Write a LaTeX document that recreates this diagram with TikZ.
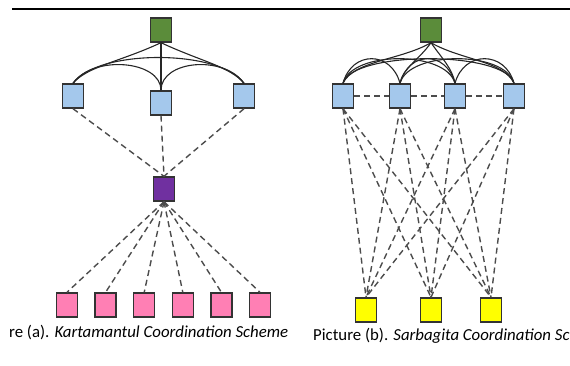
\documentclass[tikz,border=0pt]{standalone}
\usepackage{fontspec}
\setmainfont{Carlito}
\usepackage{xcolor}
\definecolor{Leaf Green}{HTML}{5B8C3A}
\definecolor{Sky Blue}{HTML}{A4C8EC}
\definecolor{Grape}{HTML}{7030A0}
\definecolor{Flamingo}{HTML}{FF7FB4}
\definecolor{Lemon}{HTML}{FFFF00}
\colorlet{cGreen}{Leaf Green}
\colorlet{cBlue}{Sky Blue}
\colorlet{cPurple}{Grape}
\colorlet{cPink}{Flamingo}
\colorlet{cYellow}{Lemon}
\usepackage{tikz}
\usetikzlibrary{positioning}
\tikzset{
	x=1pt,
	y=-1pt,
	node distance = 16.2pt,
	line width = 1.1pt,
	font = \fontsize{16.8}{20}\selectfont,
	unit/.style={
		draw=black!80,
		rectangle,
		line width=1.4pt,
		minimum width=21pt,
		minimum height=24pt,
		inner sep=0pt,
		fill=#1
	},
	link/.style={
		draw=black!85,
		line width=1.1pt
	},
	radio/.style={
		draw=black!70,
		line width=1.4pt,
		dash pattern=on 6pt off 4pt
	}
}

\begin{document}
\begin{tikzpicture}
		\useasboundingbox (0,0) rectangle (570,365);
		\draw[line width=2pt] (12,9) -- (570,9);

		% (a) Kartamantul -- y runs downwards, so angles are negated
		\node[unit=cGreen] at (161,30) (g1) {};
		\node[unit=cBlue] at (73,96) (b1) {};
		\node[unit=cBlue] at (161,103) (b2) {};
		\node[unit=cBlue] at (244,96) (b3) {};
		\node[unit=cPurple] at (164,189) (p) {};
		\node[unit=cPink] at (67,305) (k1) {};
		\node[unit=cPink, right=of k1] (k2) {};
		\node[unit=cPink, right=of k2] (k3) {};
		\node[unit=cPink, right=of k3] (k4) {};
		\node[unit=cPink, right=of k4] (k5) {};
		\node[unit=cPink, right=of k5] (k6) {};

		\draw[link] (g1.south) .. controls +(-205:45) and +(-50:22) .. (b1.north);
		\draw[link] (g1.south) -- (b2.north);
		\draw[link] (g1.south) .. controls +(25:45) and +(-130:22) .. (b3.north);
		\draw[link] (b1.north) .. controls +(-55:35) and +(-90:30) .. (b2.north);
		\draw[link] (b3.north) .. controls +(-125:35) and +(-90:30) .. (b2.north);
		\draw[link] (b1.north) .. controls +(-55:42) and +(-125:42) .. (b3.north);

		\foreach \i in {1,2,3}
			\draw[radio] (b\i.south) -- (p.north);
		\foreach \i in {1,...,6}
			\draw[radio] (p.south) -- (k\i.north);

		\node[anchor=base west, inner sep=0pt] at (9,337) (capa)
			{re (a). \textit{Kartamantul Coordination Scheme}};

		% (b) Sarbagita
		\node[unit=cGreen] at (431,30) (g2) {};
		\node[unit=cBlue] at (343,96) (s1) {};
		\node[unit=cBlue] at (400,96) (s2) {};
		\node[unit=cBlue] at (455,96) (s3) {};
		\node[unit=cBlue] at (514,96) (s4) {};
		\node[unit=cYellow] at (366,310) (y1) {};
		\node[unit=cYellow] at (431,310) (y2) {};
		\node[unit=cYellow] at (491,310) (y3) {};

		\draw[link] (g2.south) .. controls +(-210:35) and +(-65:25) .. (s1.north);
		\draw[link] (g2.south) .. controls +(-235:20) and +(-80:15) .. (s2.north);
		\draw[link] (g2.south) .. controls +(55:20) and +(-100:15) .. (s3.north);
		\draw[link] (g2.south) .. controls +(30:35) and +(-115:25) .. (s4.north);
		\foreach \a/\b in {1/2,2/3,3/4,1/3,2/4,1/4}
			\draw[link] (s\a.north) .. controls +(-75:34) and +(-105:34) .. (s\b.north);

		\draw[radio] (s1.east) -- (s2.west);
		\draw[radio] (s2.east) -- (s3.west);
		\draw[radio] (s3.east) -- (s4.west);
		\foreach \i in {1,...,4}
			\foreach \j in {1,2,3}
				\draw[radio] (s\i.south) -- (y\j.north);

		\node[anchor=base west, inner sep=0pt] at (313,340) (capb)
			{Picture (b). \textit{Sarbagita Coordination Sc}};
	\end{tikzpicture}
\end{document}
